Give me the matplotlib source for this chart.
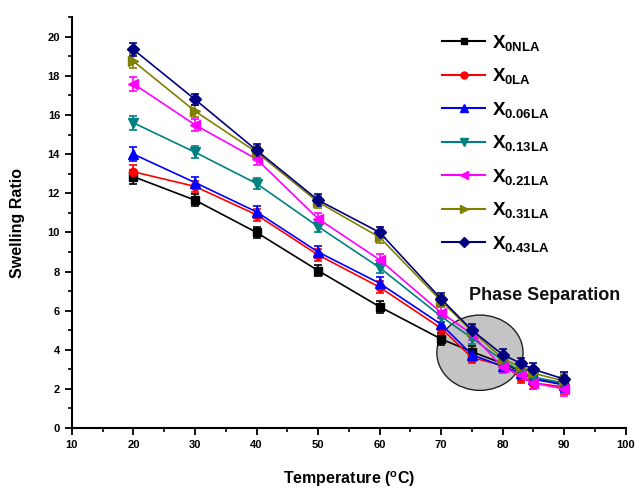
import matplotlib
matplotlib.use("Agg")
import matplotlib.pyplot as plt
from matplotlib.patches import Ellipse
from matplotlib.lines import Line2D
from matplotlib.ticker import MultipleLocator

plt.rcParams['font.family'] = ['Liberation Sans', 'DejaVu Sans']
plt.rcParams['mathtext.fontset'] = 'custom'
plt.rcParams['mathtext.rm'] = 'Liberation Sans:bold'
plt.rcParams['mathtext.bf'] = 'Liberation Sans:bold'
plt.rcParams['mathtext.it'] = 'Liberation Sans:bold'

temperature = [20, 30, 40, 50, 60, 70, 75, 80, 83, 85, 90]

x_0nla = [12.85, 11.65, 10.0, 8.05, 6.2, 4.55, 3.9, 3.3, 2.9, 2.5, 2.3]
x_0la = [13.1, 12.35, 10.9, 8.85, 7.2, 5.1, 3.6, 3.2, 2.6, 2.3, 2.1]
x_006la = [14.0, 12.55, 11.05, 9.0, 7.4, 5.3, 3.75, 3.15, 2.8, 2.5, 2.2]
x_013la = [15.6, 14.1, 12.5, 10.3, 8.2, 5.7, 4.6, 3.45, 2.9, 2.6, 2.3]
x_021la = [17.6, 15.5, 13.75, 10.7, 8.6, 5.9, 4.8, 3.1, 2.7, 2.3, 2.0]
x_031la = [18.75, 16.2, 14.1, 11.55, 9.75, 6.5, 4.95, 3.55, 3.1, 2.8, 2.4]
x_043la = [19.35, 16.8, 14.2, 11.65, 10.0, 6.6, 5.0, 3.75, 3.3, 3.0, 2.5]
err = [0.35, 0.3, 0.3, 0.3, 0.3, 0.3, 0.3, 0.3, 0.3, 0.3, 0.35]

labels = [r'X$_{0NLA}$', r'X$_{0LA}$', r'X$_{0.06LA}$', r'X$_{0.13LA}$',
          r'X$_{0.21LA}$', r'X$_{0.31LA}$', r'X$_{0.43LA}$']
series = [x_0nla, x_0la, x_006la, x_013la, x_021la, x_031la, x_043la]
colors = ['#000000', '#ff0000', '#0000ff', '#008080', '#ff00ff', '#808000', '#000080']
markers = ['s', 'o', '^', 'v', '<', '>', 'D']
msizes = [6, 6, 7, 7, 7, 7, 6]

fig = plt.figure(figsize=(6.36, 4.92), dpi=100)
ax = fig.add_axes([0.113, 0.130, 0.871, 0.835])

ell = Ellipse((76.3, 3.85), 14.0, 3.85, facecolor='#c4c4c4', edgecolor='#222222',
              linewidth=1.0, zorder=1)
ax.add_patch(ell)

handles = []
for ys, lab, c, m, ms in zip(series, labels, colors, markers, msizes):
    ax.errorbar(temperature, ys, yerr=err, color=c, marker=m, markersize=ms,
                linewidth=1.2, elinewidth=1.2, capsize=3, capthick=1.2,
                zorder=3)
    handles.append(Line2D([], [], color=c, marker=m, markersize=ms - 1,
                          linewidth=1.5, label=lab))

ax.text(86.8, 6.8, 'Phase Separation', fontsize=13, fontweight='bold',
        ha='center', va='center', color='#111111', zorder=4, clip_on=False)

ax.set_xlim(10, 100)
ax.set_ylim(0, 21)
ax.xaxis.set_major_locator(MultipleLocator(10))
ax.xaxis.set_minor_locator(MultipleLocator(5))
ax.yaxis.set_major_locator(MultipleLocator(2))
ax.yaxis.set_minor_locator(MultipleLocator(1))
ax.set_yticks(range(0, 21, 2))
for s in ['top', 'right']:
    ax.spines[s].set_visible(False)
for s in ['left', 'bottom']:
    ax.spines[s].set_linewidth(1.5)
ax.tick_params(which='major', direction='out', length=5, width=1.3, labelsize=8)
ax.tick_params(which='minor', direction='out', length=3, width=1.2)
for lbl in ax.get_xticklabels() + ax.get_yticklabels():
    lbl.set_fontweight('bold')

ax.set_xlabel(r'Temperature ($^{\mathrm{o}}$C)', fontsize=11.5, fontweight='bold', labelpad=14)
ax.set_ylabel('Swelling Ratio', fontsize=11.5, fontweight='bold', labelpad=16)

leg = ax.legend(handles=handles, loc='upper left', bbox_to_anchor=(0.655, 0.98),
                frameon=False, fontsize=13.5, handlelength=2.3, handletextpad=0.35,
                labelspacing=0.72, borderaxespad=0)
for t in leg.get_texts():
    t.set_fontweight('bold')

fig.savefig('out.png', dpi=100)
